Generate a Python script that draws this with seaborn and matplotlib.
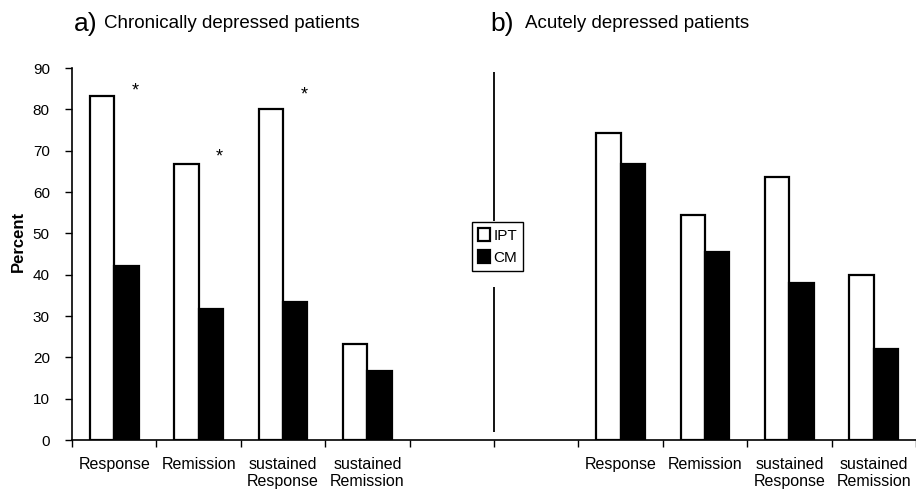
import pandas as pd
import numpy as np
import matplotlib
matplotlib.use("Agg")
import matplotlib.pyplot as plt
import seaborn as sns

# values (percent)
outcomes = ["Response", "Remission", "sustained\nResponse", "sustained\nRemission"]
chronic_ipt = [83.3, 66.7, 80.0, 23.3]
chronic_cm = [42.1, 31.6, 33.3, 16.7]
acute_ipt = [74.2, 54.5, 63.6, 40.0]
acute_cm = [66.7, 45.5, 37.9, 22.0]
star_idx = [0, 1, 2]           # chronic outcomes marked significant
star_y = [84.5, 68.5, 83.5]

sns.set_theme(style="ticks")
plt.rcParams["font.family"] = ["Liberation Sans", "DejaVu Sans"]
plt.rcParams.update({"text.color": "black", "axes.labelcolor": "black",
                     "xtick.color": "black", "ytick.color": "black"})

rows = []
for i, o in enumerate(outcomes):
    rows.append(("a_" + o, "IPT", chronic_ipt[i]))
    rows.append(("a_" + o, "CM", chronic_cm[i]))
for i, o in enumerate(outcomes):
    rows.append(("b_" + o, "IPT", acute_ipt[i]))
    rows.append(("b_" + o, "CM", acute_cm[i]))
df = pd.DataFrame(rows, columns=["cat", "group", "pct"])

order = ["a_" + o for o in outcomes] + ["gap1", "gap2"] + ["b_" + o for o in outcomes]

fig = plt.figure(figsize=(9.16, 4.9), dpi=100)
ax = fig.add_axes([72 / 916, 50 / 490, 1 - 72 / 916, 372 / 490])

sns.barplot(data=df, x="cat", y="pct", hue="group", order=order,
            hue_order=["IPT", "CM"], palette={"IPT": "white", "CM": "black"},
            edgecolor="black", linewidth=1.6, width=0.58, saturation=1,
            errorbar=None, ax=ax)

ax.set_xlim(-0.5, 9.5)
ax.set_ylim(0, 90)
ax.set_yticks(np.arange(0, 91, 10))
ax.set_xticks(range(len(order)))
labels = outcomes + ["", ""] + outcomes
ax.set_xticklabels(labels, fontsize=11.5, linespacing=1.2)
ax.set_xticks(np.arange(-0.5, 9.6, 1), minor=True)
ax.tick_params(axis="x", which="major", length=0, pad=12)
ax.tick_params(axis="x", which="minor", length=5, width=1, color="black")
ax.tick_params(axis="y", length=5, width=1, color="black", labelsize=11, pad=11)
ax.set_xlabel("")
ax.set_ylabel("Percent", fontsize=12, fontweight="bold")
ax.yaxis.set_label_coords(-0.055, 0.535)
sns.despine(ax=ax)
for s in ["left", "bottom"]:
    ax.spines[s].set_color("black")
    ax.spines[s].set_linewidth(1.2)

# significance stars
for i, y in zip(star_idx, star_y):
    ax.text(i + 0.25, y, "*", ha="center", va="center", fontsize=13)

# divider between panels
ax.vlines(4.5, 2, 37, color="black", lw=1.3)
ax.vlines(4.5, 53, 89, color="black", lw=1.3)

leg = ax.legend(loc="center", bbox_to_anchor=(0.504, 0.52), fontsize=11,
                frameon=True, fancybox=False, edgecolor="black",
                handlelength=0.8, handleheight=0.9, handletextpad=0.2,
                borderpad=0.4, labelspacing=0.5, borderaxespad=0)
leg.get_frame().set_linewidth(1.0)
leg.get_frame().set_facecolor("white")
leg.get_frame().set_alpha(1)

# panel titles
fig.text(74 / 916, 1 - 24 / 490, "a)", fontsize=19, va="center")
fig.text(104 / 916, 1 - 24 / 490, "Chronically depressed patients", fontsize=13.5, va="center")
fig.text(490 / 916, 1 - 24 / 490, "b)", fontsize=19, va="center")
fig.text(525 / 916, 1 - 24 / 490, "Acutely depressed patients", fontsize=13.5, va="center")

fig.savefig("out.png", dpi=100)
